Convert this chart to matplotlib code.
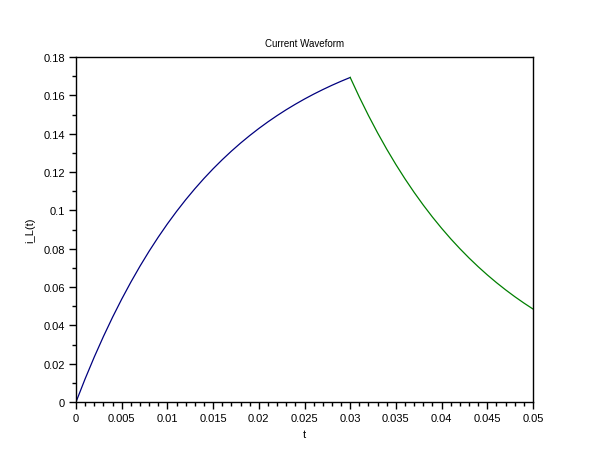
import matplotlib
matplotlib.use("Agg")
import matplotlib.pyplot as plt
from matplotlib.ticker import MultipleLocator

# charging phase
t_charge = [0.000, 0.001, 0.002, 0.003, 0.004, 0.005, 0.006, 0.007, 0.008, 0.009,
            0.010, 0.011, 0.012, 0.013, 0.014, 0.015, 0.016, 0.017, 0.018, 0.019,
            0.020, 0.021, 0.022, 0.023, 0.024, 0.025, 0.026, 0.027, 0.028, 0.029, 0.030]
i_charge = [0.0, 0.01212, 0.02350, 0.03419, 0.04424, 0.05368, 0.06254, 0.07087, 0.07869, 0.08604,
            0.09295, 0.09943, 0.10553, 0.11125, 0.11663, 0.12168, 0.12642, 0.13088, 0.13507, 0.13900,
            0.14270, 0.14617, 0.14943, 0.15250, 0.15537, 0.15808, 0.16062, 0.16300, 0.16525, 0.16735, 0.16933]

# discharge phase
t_decay = [0.030, 0.031, 0.032, 0.033, 0.034, 0.035, 0.036, 0.037, 0.038, 0.039,
           0.040, 0.041, 0.042, 0.043, 0.044, 0.045, 0.046, 0.047, 0.048, 0.049, 0.050]
i_decay = [0.16933, 0.15907, 0.14944, 0.14038, 0.13187, 0.12388, 0.11638, 0.10933, 0.10271, 0.09648,
           0.09064, 0.08514, 0.07999, 0.07514, 0.07059, 0.06631, 0.06229, 0.05852, 0.05497, 0.05164, 0.04851]

x_ticks = [0, 0.005, 0.01, 0.015, 0.02, 0.025, 0.03, 0.035, 0.04, 0.045, 0.05]
x_labels = ["0", "0.005", "0.01", "0.015", "0.02", "0.025", "0.03", "0.035", "0.04", "0.045", "0.05"]
y_ticks = [0, 0.02, 0.04, 0.06, 0.08, 0.1, 0.12, 0.14, 0.16, 0.18]
y_labels = ["0", "0.02", "0.04", "0.06", "0.08", "0.1", "0.12", "0.14", "0.16", "0.18"]

plt.rcParams['font.family'] = ['Liberation Sans', 'DejaVu Sans']

fig = plt.figure(figsize=(6.1, 4.6), dpi=100)
ax = fig.add_axes([0.1246, 0.1239, 0.7492, 0.75])

ax.plot(t_charge, i_charge, color='#00007f', linewidth=0.9)
ax.plot(t_decay, i_decay, color='#007f00', linewidth=0.9)

ax.set_xlim(0, 0.05)
ax.set_ylim(0, 0.18)
ax.set_xticks(x_ticks)
ax.set_xticklabels(x_labels)
ax.set_yticks(y_ticks)
ax.set_yticklabels(y_labels)
ax.xaxis.set_minor_locator(MultipleLocator(0.001))
ax.yaxis.set_minor_locator(MultipleLocator(0.01))
ax.tick_params(which='major', direction='out', length=5, width=1, labelsize=8, pad=3)
ax.tick_params(which='minor', direction='out', length=3, width=1)

for s in ax.spines.values():
    s.set_linewidth(1)

ax.set_title('Current Waveform', fontsize=7, pad=8)
ax.set_xlabel('t', fontsize=8, labelpad=4)
ax.set_ylabel('i_L(t)', fontsize=8, labelpad=6)

fig.savefig('out.png', dpi=100)
